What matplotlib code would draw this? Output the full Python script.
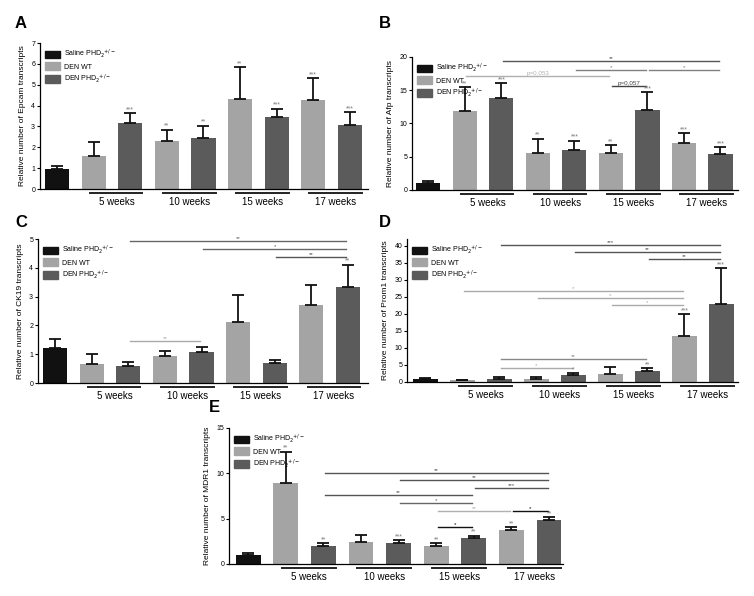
import matplotlib
matplotlib.use("Agg")
import matplotlib.pyplot as plt
from matplotlib.patches import Patch
from matplotlib.transforms import offset_copy

plt.rcParams['font.family'] = ['Liberation Sans', 'DejaVu Sans']

# bar order: saline, then (WT, PHD2+/-) for 5, 10, 15, 17 weeks
weeks = ["5 weeks", "10 weeks", "15 weeks", "17 weeks"]
bar_colors = ['#111111', '#a4a4a4', '#5b5b5b', '#a4a4a4', '#5b5b5b',
              '#a4a4a4', '#5b5b5b', '#a4a4a4', '#5b5b5b']

epcam_mean = [0.96, 1.57, 3.15, 2.29, 2.43, 4.33, 3.45, 4.28, 3.08]
epcam_err = [0.13, 0.67, 0.49, 0.55, 0.61, 1.50, 0.40, 1.04, 0.60]
epcam_stars = ['', '', '***', '**', '**', '**', '***', '***', '***']

afp_mean = [1.0, 11.9, 13.9, 5.6, 6.0, 5.5, 12.1, 7.0, 5.4]
afp_err = [0.3, 3.6, 2.2, 2.1, 1.4, 1.2, 2.6, 1.5, 1.0]
afp_stars = ['', '**', '***', '**', '***', '**', '***', '***', '***']

ck19_mean = [1.23, 0.67, 0.58, 0.95, 1.07, 2.13, 0.70, 2.70, 3.35]
ck19_err = [0.31, 0.35, 0.15, 0.15, 0.18, 0.93, 0.10, 0.70, 0.76]
ck19_stars = ['', '', '', '', '', '', '', '', '**']

prom1_mean = [0.9, 0.5, 1.0, 0.9, 2.0, 2.4, 3.1, 13.6, 23.0]
prom1_err = [0.4, 0.2, 0.5, 0.5, 0.5, 2.1, 0.9, 6.3, 10.5]
prom1_stars = ['', '', '', '', '*', '', '**', '***', '***']

mdr1_mean = [0.99, 8.93, 2.02, 2.39, 2.32, 1.99, 2.90, 3.71, 4.82]
mdr1_err = [0.19, 3.47, 0.26, 0.77, 0.33, 0.29, 0.23, 0.33, 0.36]
mdr1_stars = ['', '**', '**', '', '***', '**', '**', '**', '**']

# significance brackets: (from bar, to bar, height, label, colour)
afp_sig = [(2, 8, 19.35, '**', '#555555'), (1, 5, 17.2, 'p=0,053', '#b0b0b0'),
           (4, 6, 18.0, '*', '#808080'), (6, 8, 18.0, '*', '#808080'),
           (5, 6, 15.7, 'p=0,057', '#444444')]
ck19_sig = [(2, 8, 4.94, '**', '#666666'), (4, 8, 4.65, '*', '#666666'),
            (6, 8, 4.36, '**', '#555555'), (2, 4, 1.45, '**', '#aaaaaa')]
prom1_sig = [(2, 8, 40.3, '***', '#555555'), (4, 8, 38.2, '**', '#555555'),
             (6, 8, 36.1, '**', '#555555'), (1, 7, 26.6, '*', '#aaaaaa'),
             (3, 7, 24.6, '*', '#aaaaaa'), (5, 7, 22.5, '*', '#aaaaaa'),
             (2, 6, 6.65, '**', '#888888'), (2, 4, 4.0, '*', '#aaaaaa')]
mdr1_sig = [(2, 8, 10.04, '**', '#555555'), (4, 8, 9.23, '**', '#555555'),
            (6, 8, 8.42, '***', '#555555'), (2, 6, 7.57, '**', '#555555'),
            (4, 6, 6.73, '*', '#666666'), (5, 7, 5.8, '**', '#b0b0b0'),
            (5, 6, 4.04, '*', '#111111'), (7, 8, 5.8, '*', '#111111')]

W, H = 754, 596
fig = plt.figure(figsize=(W / 100, H / 100), dpi=100)


def panel(box, letter, letter_xy, mean, err, stars, sig, ylim, yticks, ylabel, xlim):
    x0, x1, ytop, ybot = box
    ax = fig.add_axes([x0 / W, 1 - ybot / H, (x1 - x0) / W, (ybot - ytop) / H])
    pos = list(range(len(mean)))
    ax.bar(pos, mean, width=0.66, color=bar_colors, zorder=2)
    ax.errorbar(pos, mean, yerr=[[0] * len(err), err], fmt='none', ecolor='#111111',
                elinewidth=1.3, capsize=4.5, capthick=1.3, zorder=3)
    for i in pos:
        if stars[i]:
            ax.text(i, mean[i] + err[i], stars[i], ha='center', va='bottom',
                    fontsize=5, color='#777777')
    for a, b, y, lab, c in sig:
        ax.plot([a + 0.04, b - 0.04], [y, y], color=c, lw=1.0, zorder=1)
        ax.text((a + b) / 2, y, lab, ha='center', va='bottom', fontsize=4.5, color=c)
    ax.set_xlim(*xlim)
    ax.set_ylim(*ylim)
    ax.set_yticks(yticks)
    ax.set_xticks([])
    ax.tick_params(axis='y', labelsize=5, length=2.5, width=0.8, pad=1)
    for s in ['top', 'right']:
        ax.spines[s].set_visible(False)
    ax.spines['left'].set_linewidth(0.9)
    ax.spines['bottom'].set_linewidth(0.9)
    ax.set_ylabel(ylabel, fontsize=6, labelpad=4)
    tr_line = offset_copy(ax.get_xaxis_transform(), fig=fig, y=-4, units='dots')
    for k, wk in enumerate(weeks):
        wt = 1 + 2 * k
        ax.plot([wt - 0.1, wt + 1.33], [0, 0], color='#222222', lw=1.4,
                transform=tr_line, clip_on=False)
        ax.annotate(wk, xy=(wt + 0.62, 0), xycoords=('data', 'axes fraction'),
                    xytext=(0, -6), textcoords='offset points',
                    ha='center', va='top', fontsize=7)
    handles = [Patch(color='#111111'), Patch(color='#a4a4a4'), Patch(color='#5b5b5b')]
    labels = ['Saline PHD$_2$$^{+/-}$', 'DEN WT', 'DEN PHD$_2$$^{+/-}$']
    ax.legend(handles, labels, loc='upper left', bbox_to_anchor=(0.0, 1.0),
              frameon=False, fontsize=5, handlelength=2.2, handleheight=1.3,
              labelspacing=0.3, handletextpad=0.5, borderaxespad=0.3)
    fig.text(letter_xy[0] / W, 1 - letter_xy[1] / H, letter, fontsize=12,
             fontweight='bold', ha='left', va='baseline')
    return ax


panel((40, 368, 43, 189), 'A', (15, 28), epcam_mean, epcam_err, epcam_stars, [],
      (0, 7), range(0, 8), 'Relative number of Epcam transcripts', (-0.47, 8.5))
panel((412, 738, 57, 190), 'B', (379, 28), afp_mean, afp_err, afp_stars, afp_sig,
      (0, 20), range(0, 21, 5), 'Relative number of Afp transcripts', (-0.45, 8.48))
panel((38, 368, 239, 383), 'C', (15, 227), ck19_mean, ck19_err, ck19_stars, ck19_sig,
      (0, 5), range(0, 6), 'Relative number of CK19 transcripts', (-0.47, 8.55))
panel((407, 738, 239, 382), 'D', (379, 227), prom1_mean, prom1_err, prom1_stars, prom1_sig,
      (0, 42), range(0, 41, 5), 'Relative number of Prom1 transcripts', (-0.5, 8.45))
panel((229, 563, 428, 564), 'E', (209, 412), mdr1_mean, mdr1_err, mdr1_stars, mdr1_sig,
      (0, 15), range(0, 16, 5), 'Relative number of MDR1 transcripts', (-0.51, 8.37))

fig.savefig('out.png', dpi=100)
